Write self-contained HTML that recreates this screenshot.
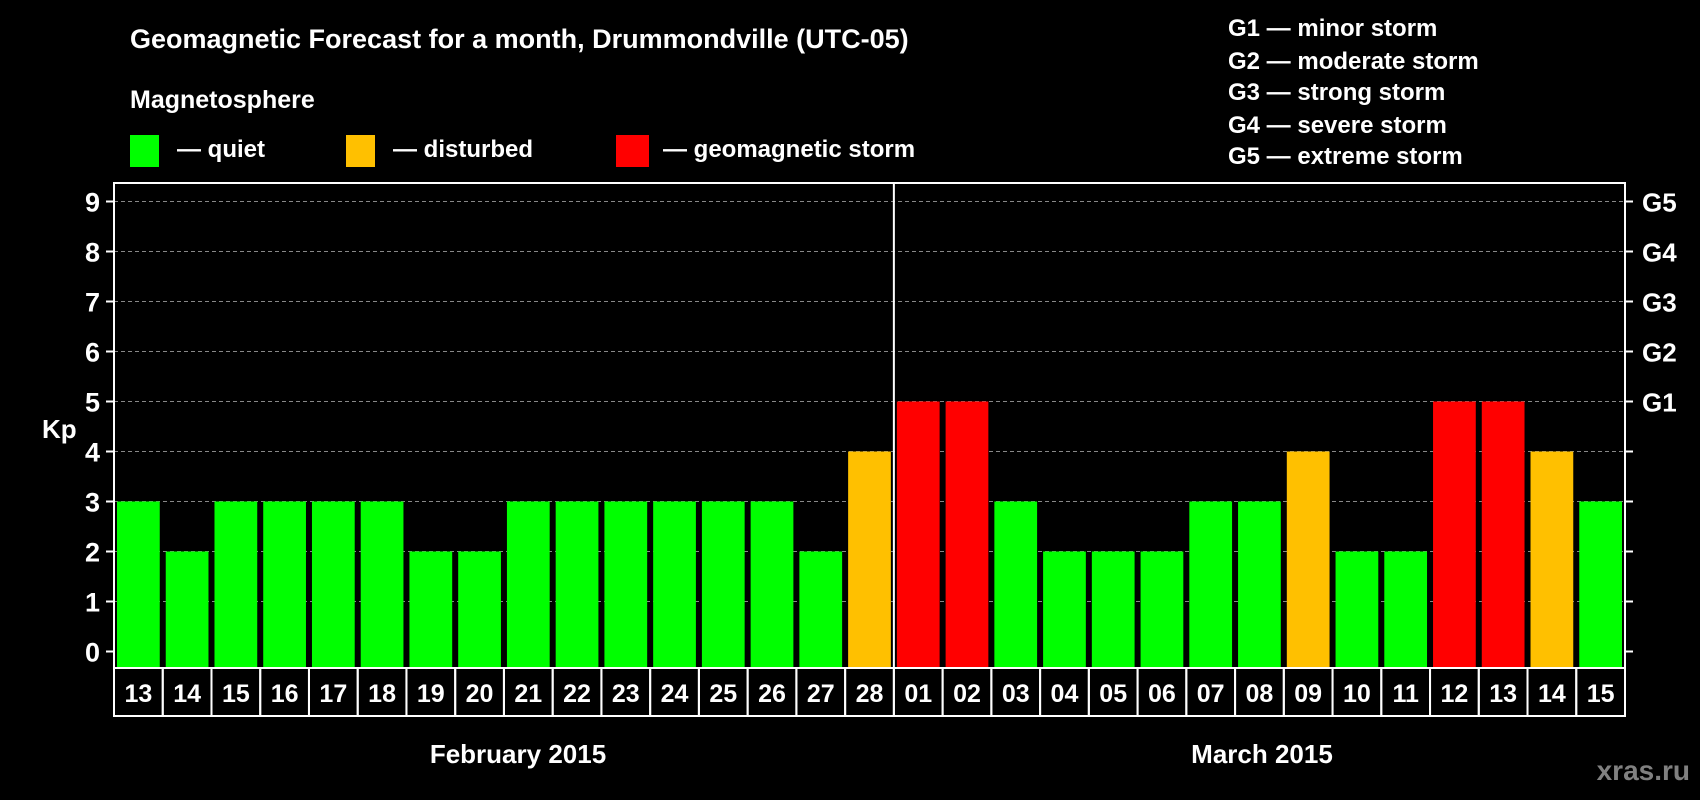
<!DOCTYPE html>
<html><head><meta charset="utf-8"><style>
html,body{margin:0;padding:0;background:#000;}
svg{display:block;font-family:"Liberation Sans",sans-serif;font-weight:bold;}
</style></head><body>
<svg id="c" width="1700" height="800" xmlns="http://www.w3.org/2000/svg">
<text x="130" y="48" fill="#fff" font-size="27">Geomagnetic Forecast for a month, Drummondville (UTC-05)</text>
<text x="130" y="108" fill="#fff" font-size="25">Magnetosphere</text>
<g><rect x="130" y="135" width="29" height="32" fill="#00ff00"/><text x="177" y="157" fill="#fff" font-size="24">— quiet</text></g>
<g><rect x="346" y="135" width="29" height="32" fill="#ffc000"/><text x="393" y="157" fill="#fff" font-size="24">— disturbed</text></g>
<g><rect x="616" y="135" width="33" height="32" fill="#ff0000"/><text x="663" y="157" fill="#fff" font-size="24">— geomagnetic storm</text></g>
<g fill="#fff" font-size="24">
<text x="1228" y="36">G1 — minor storm</text>
<text x="1228" y="69">G2 — moderate storm</text>
<text x="1228" y="100">G3 — strong storm</text>
<text x="1228" y="133">G4 — severe storm</text>
<text x="1228" y="164">G5 — extreme storm</text>
</g>
<text x="42" y="438" fill="#fff" font-size="26">Kp</text>
<text x="518" y="763" fill="#fff" font-size="26" text-anchor="middle">February 2015</text>
<text x="1262" y="763" fill="#fff" font-size="26" text-anchor="middle">March 2015</text>
<text x="1690" y="780" fill="#808080" font-size="28" text-anchor="end">xras.ru</text>
<g id="plot"></g>
</svg>
<script>
const dates=["13","14","15","16","17","18","19","20","21","22","23","24","25","26","27","28","01","02","03","04","05","06","07","08","09","10","11","12","13","14","15"];
const kpValues=[3,2,3,3,3,3,2,2,3,3,3,3,3,3,2,4,5,5,3,2,2,2,3,3,4,2,2,5,5,4,3];
const yTicks=[0,1,2,3,4,5,6,7,8,9];
const gLabels=["G1","G2","G3","G4","G5"];
const monthSplit=16;
const NS="http://www.w3.org/2000/svg";
const L=114,R=1625,T=183,B=668,Y0=651.5,U=50;
const n=dates.length,pitch=(R-L)/n;
const y=v=>Y0-v*U, x=i=>L+i*pitch;
const g=document.getElementById('plot');
function mk(t,a,p){const e=document.createElementNS(NS,t);for(const k in a)e.setAttribute(k,a[k]);(p||g).appendChild(e);return e;}
yTicks.forEach(v=>{
  if(v>0){const gl=mk('line',{x1:L,x2:R,y1:y(v),y2:y(v),stroke:'#888','stroke-dasharray':'4,3','stroke-width':1});
  
  }
  const t1=mk('line',{x1:L-8,x2:L,y1:y(v),y2:y(v),stroke:'#fff','stroke-width':2});
  
  
  const t2=mk('line',{x1:R,x2:R+8,y1:y(v),y2:y(v),stroke:'#fff','stroke-width':2});
  
  
  const tl=mk('text',{x:L-14,y:y(v)+10,fill:'#fff','font-size':27,'text-anchor':'end'});tl.textContent=v;
  
  
});
gLabels.forEach((s,i)=>{
  const t=mk('text',{x:R+17,y:y(5+i)+10,fill:'#fff','font-size':26});t.textContent=s;
  
  
});
kpValues.forEach((v,i)=>{
  const c=v>=5?'#ff0000':v>=4?'#ffc000':'#00ff00';
  const b=mk('rect',{x:x(i)+3,y:y(v),width:pitch-6,height:B-y(v),fill:c});
  
  
  const bx=mk('rect',{x:x(i),y:B,width:pitch,height:48,fill:'none',stroke:'#fff','stroke-width':2});
  
  
  const t=mk('text',{x:x(i)+pitch/2,y:B+34,fill:'#fff','font-size':25,'text-anchor':'middle'});t.textContent=dates[i];
  
  
});
const fr=mk('rect',{x:L,y:T,width:R-L,height:B-T,fill:'none',stroke:'#fff','stroke-width':2});


const dv=mk('line',{x1:x(monthSplit),x2:x(monthSplit),y1:T,y2:B,stroke:'#fff','stroke-width':2});


</script>
</body></html>
